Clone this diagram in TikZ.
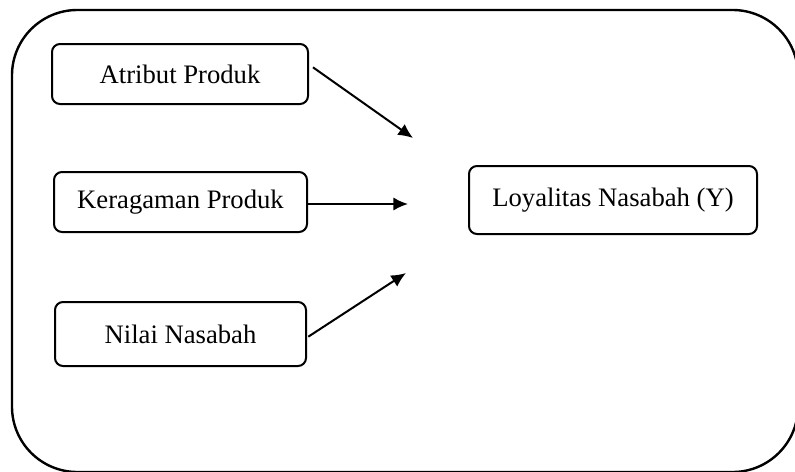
\documentclass[tikz,border=0pt]{standalone}
\usepackage{fontspec}
\setmainfont{Liberation Serif}
\usepackage{tikz}
\usetikzlibrary{arrows.meta}

\tikzset{
  kotak/.style={draw, line width=1.5pt, rounded corners=6pt, align=center,
    font=\fontsize{20}{24}\selectfont, inner sep=0pt},
  panah/.style={line width=1.5pt, -{Latex[length=11pt,width=10pt]}}
}

\begin{document}
\begin{tikzpicture}[x=0.75pt, y=-0.75pt]
  \useasboundingbox (0,0) rectangle (795,471);
  \clip (0,0) rectangle (795,471);
  % bingkai luar
  \draw[line width=1.8pt, rounded corners=49pt] (12,10) rectangle (798,472);

  % variabel bebas
  \node[kotak, minimum width=192pt, minimum height=45pt] (atr) at (180,74) {Atribut Produk};
  \node[kotak, minimum width=189.75pt, minimum height=45pt] (ragam) at (180.5,202) {Keragaman Produk};
  \node[kotak, minimum width=188.25pt, minimum height=48pt] (nilai) at (180.5,334) {Nilai Nasabah};
  % variabel terikat
  \node[kotak, minimum width=216pt, minimum height=51pt] (loyal) at (613,200) {Loyalitas Nasabah (Y)};

  \coordinate (u1) at (413,138);
  \coordinate (u2) at (408,204);
  \coordinate (u3) at (406,273);

  \draw[panah] ([xshift=3pt,yshift=5pt]atr.east) -- (u1);
  \draw[panah] ([yshift=-1.5pt]ragam.east) -- (u2);
  \draw[panah] ([xshift=1pt,yshift=-2pt]nilai.east) -- (u3);
\end{tikzpicture}
\end{document}
